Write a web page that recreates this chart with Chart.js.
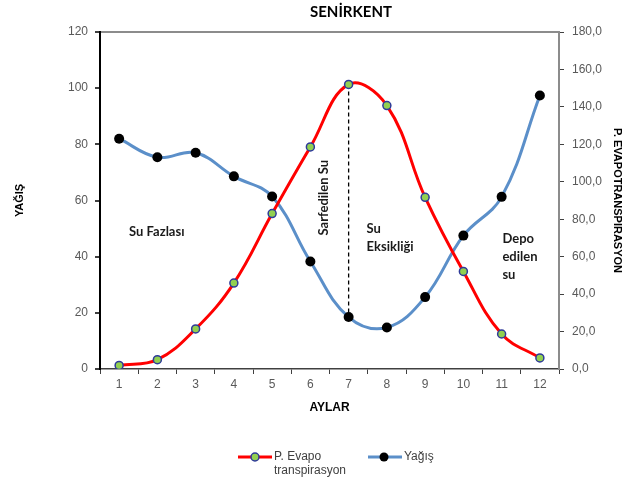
<!DOCTYPE html>
<html>
<head>
<meta charset="utf-8">
<script src="https://cdn.jsdelivr.net/npm/chart.js@4"></script>
<style>
  html, body { margin: 0; padding: 0; background: #fff; }
  #wrap { width: 625px; height: 481px; }
</style>
</head>
<body>
<div id="wrap"><canvas id="chart" width="625" height="481"></canvas></div>
<script>
/* Chart data */
const months = ['1', '2', '3', '4', '5', '6', '7', '8', '9', '10', '11', '12'];
const evapo = [1.9, 5.0, 21.4, 45.9, 83.0, 118.6, 152.0, 140.7, 91.7, 52.1, 18.7, 5.9];
const yagis = [82.0, 75.4, 77.0, 68.6, 61.4, 38.3, 18.5, 14.8, 25.6, 47.5, 61.3, 97.4];
const leftTicks = [0, 20, 40, 60, 80, 100, 120];
const rightTicks = [0, 20, 40, 60, 80, 100, 120, 140, 160, 180];

const RED = '#ff0000';
const BLUE = '#5b8fc9';

Chart.defaults.font.family = '"Liberation Sans", Arial, sans-serif';
Chart.defaults.color = '#595959';

/* Text labels inside the plot, anchored to category index / left axis value */
const notes = [
    { text: ['Su Fazlası'], at: [0.26, 49] },
    { text: ['Su', 'Eksikliği'], at: [6.47, 50] },
    { text: ['Depo', 'edilen', 'su'], at: [10.02, 46.4] }
];

const extras = {
    id: 'extras',
    beforeDatasetsDraw(chart) {
        // dashed line at month 7 between the two curves
        const { ctx } = chart;
        const p1 = chart.getDatasetMeta(0).data[6];
        const p2 = chart.getDatasetMeta(1).data[6];
        ctx.save();
        ctx.strokeStyle = '#000';
        ctx.lineWidth = 1.3;
        ctx.setLineDash([4, 3]);
        ctx.beginPath();
        ctx.moveTo(p1.x, p1.y);
        ctx.lineTo(p2.x, p2.y);
        ctx.stroke();
        ctx.restore();
    },
    afterDraw(chart) {
        const { ctx, scales } = chart;
        ctx.save();
        ctx.textBaseline = 'middle';

        // title (sits right of centre in the original)
        ctx.fillStyle = '#000';
        ctx.textAlign = 'center';
        ctx.font = 'bold 15px Lato, "Open Sans", sans-serif';
        ctx.fillText('SENİRKENT', 351, 12);

        ctx.fillStyle = '#1a1a1a';
        ctx.font = 'bold 13px Lato, "Open Sans", sans-serif';
        ctx.textAlign = 'left';
        notes.forEach(n => {
            const x = scales.x.getPixelForValue(n.at[0]);
            const y = scales.y.getPixelForValue(n.at[1]);
            n.text.forEach((t, i) => ctx.fillText(t, x, y + i * 18));
        });

        // rotated label
        ctx.save();
        ctx.translate(scales.x.getPixelForValue(5.35), scales.y.getPixelForValue(61));
        ctx.rotate(-Math.PI / 2);
        ctx.textAlign = 'center';
        ctx.fillText('Sarfedilen Su', 0, 0);
        ctx.restore();

        // legend
        const ly = 457;
        ctx.lineWidth = 3;
        ctx.strokeStyle = RED;
        ctx.beginPath(); ctx.moveTo(238, ly); ctx.lineTo(272, ly); ctx.stroke();
        ctx.beginPath(); ctx.arc(255, ly, 4, 0, Math.PI * 2);
        ctx.fillStyle = '#92d050'; ctx.fill();
        ctx.lineWidth = 1.5; ctx.strokeStyle = '#2e3a9a'; ctx.stroke();

        ctx.lineWidth = 3;
        ctx.strokeStyle = BLUE;
        ctx.beginPath(); ctx.moveTo(368, ly); ctx.lineTo(402, ly); ctx.stroke();
        ctx.beginPath(); ctx.arc(384, ly, 4.5, 0, Math.PI * 2);
        ctx.fillStyle = '#000'; ctx.fill();

        ctx.fillStyle = '#404040';
        ctx.font = '12px "Liberation Sans", Arial, sans-serif';
        ctx.fillText('P. Evapo', 274, ly);
        ctx.fillText('transpirasyon', 274, ly + 14);
        ctx.fillText('Yağış', 404, ly);
        ctx.restore();
    }
};

new Chart(document.getElementById('chart'), {
    type: 'line',
    data: {
        labels: months,
        datasets: [{
            label: 'P. Evapo transpirasyon',
            data: evapo,
            yAxisID: 'y1',
            borderColor: RED,
            borderWidth: 3,
            tension: 0.4,
            pointRadius: 4,
            pointBackgroundColor: '#92d050',
            pointBorderColor: '#2e3a9a',
            pointBorderWidth: 1.5,
            order: 0
        }, {
            label: 'Yağış',
            data: yagis,
            yAxisID: 'y',
            borderColor: BLUE,
            borderWidth: 3,
            tension: 0.4,
            pointRadius: 5,
            pointBackgroundColor: '#000',
            pointBorderWidth: 0,
            order: 1
        }]
    },
    options: {
        responsive: false,
        animation: false,
        layout: { padding: { bottom: 62, top: 32, left: 0, right: 0 } },
        plugins: {
            legend: { display: false },
            tooltip: { enabled: false },
            title: { display: false }
        },
        scales: {
            x: {
                offset: true,
                grid: { offset: true, drawOnChartArea: false, tickLength: 5, color: '#404040' },
                border: { color: '#404040', width: 1.5 },
                ticks: { font: { size: 12 }, padding: 3 },
                title: { display: true, text: 'AYLAR', color: '#000', font: { size: 12, weight: 'bold' } },
                afterFit(s) { s.height = 50; }
            },
            y: {
                position: 'left',
                min: 0, max: 120,
                afterBuildTicks(s) { s.ticks = leftTicks.map(v => ({ value: v })); },
                grid: {
                    color: c => c.tick && c.tick.value === 120 ? '#8c8c8c' : 'rgba(0,0,0,0)',
                    lineWidth: 2,
                    tickColor: '#404040',
                    tickLength: 5
                },
                border: { color: '#000', width: 2 },
                ticks: { font: { size: 12 }, padding: 7 },
                title: {
                    display: true, text: 'YAĞIŞ', color: '#000',
                    font: { size: 11, weight: 'bold' },
                    padding: { top: 13, bottom: 4 }
                },
                afterFit(s) { s.width = 100; }
            },
            y1: {
                position: 'right',
                min: 0, max: 180,
                afterBuildTicks(s) { s.ticks = rightTicks.map(v => ({ value: v })); },
                grid: { drawOnChartArea: false, tickColor: '#404040', tickLength: 5 },
                border: { color: '#8c8c8c', width: 2 },
                ticks: {
                    font: { size: 12 },
                    padding: 8,
                    callback: v => v.toFixed(1).replace('.', ',')
                },
                title: {
                    display: true, text: 'P. EVAPOTRANSPIRASYON', color: '#000',
                    font: { size: 11, weight: 'bold' },
                    padding: { top: 1, bottom: 4 }
                },
                afterFit(s) { s.width = 66; }
            }
        }
    },
    plugins: [extras]
});
</script>
</body>
</html>
